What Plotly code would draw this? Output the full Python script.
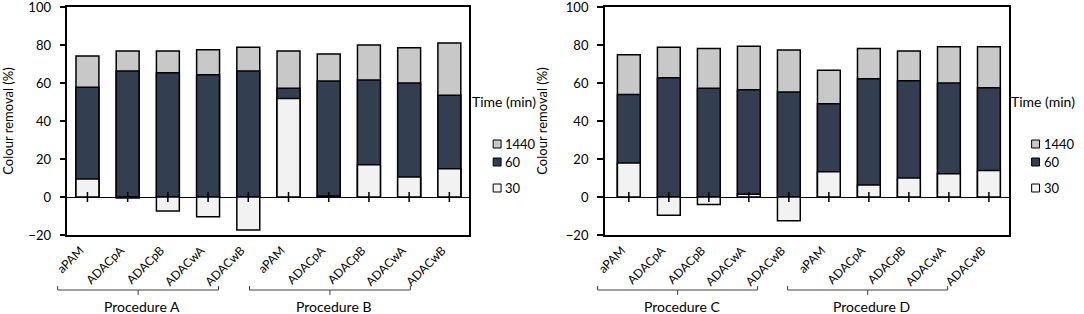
import plotly.graph_objects as go

# ---------------- data ----------------
categories = ["aPAM", "ADACpA", "ADACpB", "ADACwA", "ADACwB"]
procedures_left = ["Procedure A", "Procedure B"]
procedures_right = ["Procedure C", "Procedure D"]
series_names = ["1440", "60", "30"]

A_30 = [9.5, -0.5, -7.4, -10.4, -17.4]
A_60 = [57.7, 66.3, 65.4, 64.4, 66.3]
A_1440 = [74.2, 76.8, 76.8, 77.5, 78.8]
B_30 = [51.9, 0.5, 17.0, 10.5, 14.9]
B_60 = [57.2, 61.0, 61.6, 60.0, 53.5]
B_1440 = [76.8, 75.3, 80.0, 78.6, 81.0]
C_30 = [17.9, -9.6, -4.0, 1.4, -12.5]
C_60 = [54.0, 62.8, 57.2, 56.5, 55.3]
C_1440 = [74.9, 78.8, 78.1, 79.3, 77.4]
D_30 = [13.3, 6.3, 10.0, 12.3, 14.0]
D_60 = [49.1, 62.3, 61.2, 60.0, 57.5]
D_1440 = [66.7, 78.1, 76.8, 79.1, 79.1]

y_ticks = [-20, 0, 20, 40, 60, 80, 100]

# ---------------- style ----------------
colors = {"1440": "#c8c8c8", "60": "#333f50", "30": "#f2f2f2"}
FONT = "Lato"
W, H = 1084, 314

panels = [
    dict(xa="x", ya="y", procs=procedures_left,
         data={"1440": A_1440 + B_1440, "60": A_60 + B_60, "30": A_30 + B_30},
         xdom=(55, 462), xrange=[-0.5, 9.5],
         brk_off=[-0.74, -0.97], legend_x=463),
    dict(xa="x2", ya="y2", procs=procedures_right,
         data={"1440": C_1440 + D_1440, "60": C_60 + D_60, "30": C_30 + D_30},
         xdom=(599, 1008), xrange=[-0.6, 9.5],
         brk_off=[-0.78, -1.03], legend_x=1008),
]

fig = go.Figure()
shapes = []
annotations = []

def py(pix):
    return 1 - pix / H

def px(pix):
    return pix / W

for p in panels:
    labels = categories * 2
    xs = list(range(len(labels)))
    d0, d1 = p["xdom"]
    r0, r1 = p["xrange"]

    def cat_paper(v, d0=d0, d1=d1, r0=r0, r1=r1):
        return px(d0 + (v - r0) * (d1 - d0) / (r1 - r0))

    for name in series_names:
        fig.add_trace(go.Bar(
            x=xs, y=p["data"][name], name=name, width=0.57,
            marker=dict(color=colors[name], line=dict(color="black", width=1.5)),
            xaxis=p["xa"], yaxis=p["ya"], showlegend=False,
        ))
    # tick marks crossing the zero line
    fig.add_trace(go.Scatter(
        x=xs, y=[0] * len(xs), mode="markers", xaxis=p["xa"], yaxis=p["ya"],
        marker=dict(symbol="line-ns", size=7, line=dict(color="black", width=1.5)),
        showlegend=False, hoverinfo="skip",
    ))
    # group brackets and labels
    for g, proc in enumerate(p["procs"]):
        s = g * len(categories)
        off = p["brk_off"][g]
        x0 = cat_paper(s + off)
        x1 = cat_paper(s + len(categories) - 1 + off)
        xc = (x0 + x1) / 2
        y_line, y_up, y_dn = py(290), py(286), py(295)
        shapes.append(dict(type="path", xref="paper", yref="paper",
                           path=f"M {x0},{y_up} L {x0},{y_line} L {x1},{y_line} L {x1},{y_up}",
                           line=dict(color="#404040", width=1)))
        shapes.append(dict(type="line", xref="paper", yref="paper", x0=xc, x1=xc,
                           y0=y_line, y1=y_dn, line=dict(color="#404040", width=1)))
        annotations.append(dict(text=proc, xref="paper", yref="paper", x=xc + px(4), y=py(306),
                                showarrow=False, xanchor="center", yanchor="middle",
                                font=dict(family=FONT, size=14, color="black")))
    # legend
    lx = p["legend_x"]
    annotations.append(dict(text="Time (min)", xref="paper", yref="paper", x=px(lx), y=py(101),
                            showarrow=False, xanchor="left", yanchor="middle",
                            font=dict(family=FONT, size=14, color="black")))
    for name, ycen in zip(series_names, [144, 162, 188]):
        sx0 = lx + 23
        shapes.append(dict(type="rect", xref="paper", yref="paper",
                           x0=px(sx0), x1=px(sx0 + 8), y0=py(ycen + 4), y1=py(ycen - 4),
                           fillcolor=colors[name], line=dict(color="black", width=1)))
        annotations.append(dict(text=name, xref="paper", yref="paper", x=px(sx0 + 10), y=py(ycen),
                                showarrow=False, xanchor="left", yanchor="middle",
                                font=dict(family=FONT, size=13, color="black")))

ydom = [py(235), py(7)]
axis_common = dict(showline=True, linecolor="black", linewidth=1.5, mirror=True,
                   showgrid=False)
for i, p in enumerate(panels):
    sfx = "" if i == 0 else "2"
    fig.layout["xaxis" + sfx] = dict(
        domain=[px(p["xdom"][0]), px(p["xdom"][1])], range=p["xrange"],
        anchor="y" + sfx, tickvals=list(range(10)), ticktext=categories * 2,
        tickangle=-45, ticks="", zeroline=False, ticklabelstandoff=2,
        ticklabelshift=-7,
        tickfont=dict(family=FONT, size=12, color="black"), **axis_common)
    fig.layout["yaxis" + sfx] = dict(
        domain=ydom, range=[-20, 100], tickvals=y_ticks, anchor="x" + sfx,
        ticks="outside", ticklen=6, tickcolor="black", tickwidth=1.5,
        ticklabelstandoff=6,
        zeroline=True, zerolinecolor="black", zerolinewidth=1, automargin=False,
        ticklabeloverflow="allow",
        title=dict(text="Colour removal (%)", font=dict(family=FONT, size=13, color="black")),
        tickfont=dict(family=FONT, size=13, color="black"), **axis_common)

fig.update_layout(
    width=W, height=H, barmode="overlay", bargap=0.43,
    margin=dict(l=0, r=0, t=0, b=0),
    plot_bgcolor="white", paper_bgcolor="white",
    shapes=shapes, annotations=annotations, showlegend=False,
)

fig.write_html("out.html", config={"displayModeBar": False},
               post_script="document.body.style.margin='0';document.body.style.overflow='hidden';")
